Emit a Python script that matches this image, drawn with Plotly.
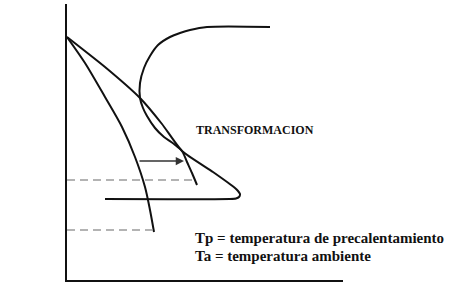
import plotly.graph_objects as go

# Schematic CCT diagram values (arbitrary time / temperature units)
outer_time = [0, 38, 73, 95, 115, 146, 168, 171, 173, 172, 169, 163, 38]
outer_temp = [243, 213, 182, 156, 129, 108, 92, 89, 86, 83, 81.5, 81, 81]

inner_time = [0, 18, 38, 55, 68, 78, 83, 87]
inner_temp = [243, 217, 183, 153, 123, 93, 70, 48]

nose_time = [203, 140, 123, 113, 103, 91, 83, 77, 73, 73, 76, 80, 88, 97, 107, 115, 120, 125, 130]
nose_temp = [253, 253, 250, 247, 243, 235, 224, 212, 197, 182, 172, 164, 152, 143, 136, 129, 118, 107, 95]

tp_level = 100
tp_time_end = 128
ta_level = 50
ta_time_end = 87

arrow_temp = 119
arrow_time_start = 71
arrow_time_end = 117

ink = "#111111"
dash_col = "#9a9a9a"
serif = "Liberation Serif"

fig = go.Figure()
fig.add_trace(go.Scatter(x=outer_time, y=outer_temp, mode="lines",
                         line=dict(color=ink, width=2, shape="spline", smoothing=0.5),
                         hoverinfo="skip"))
fig.add_trace(go.Scatter(x=inner_time, y=inner_temp, mode="lines",
                         line=dict(color=ink, width=2, shape="spline", smoothing=0.8),
                         hoverinfo="skip"))
fig.add_trace(go.Scatter(x=nose_time, y=nose_temp, mode="lines",
                         line=dict(color=ink, width=2, shape="spline", smoothing=0.8),
                         hoverinfo="skip"))
fig.add_trace(go.Scatter(x=[0, tp_time_end], y=[tp_level, tp_level], mode="lines",
                         line=dict(color=dash_col, width=1.6, dash="8px,5px"),
                         hoverinfo="skip"))
fig.add_trace(go.Scatter(x=[0, ta_time_end], y=[ta_level, ta_level], mode="lines",
                         line=dict(color=dash_col, width=1.6, dash="8px,5px"),
                         hoverinfo="skip"))

fig.add_annotation(x=arrow_time_end, y=arrow_temp, ax=arrow_time_start, ay=arrow_temp,
                   xref="x", yref="y", axref="x", ayref="y", text="",
                   showarrow=True, arrowhead=2, arrowsize=1.1, arrowwidth=1.5,
                   arrowcolor="#333333")

def label(x, y, txt, size, anchor="center", angle=0):
    fig.add_annotation(x=x, y=y, xref="x", yref="y", text="<b>" + txt + "</b>",
                       showarrow=False, xanchor=anchor, yanchor="middle",
                       textangle=angle,
                       font=dict(family=serif, size=size, color=ink))

label(-18, 103, "Tp", 11)
label(-19, 45, "Ta", 11)
label(-38, 186, "TEMPERATURA", 11, angle=-90)
label(127, 150, "TRANSFORMACION", 12, anchor="left")
label(126, 42, "Tp = temperatura de precalentamiento", 15, anchor="left")
label(126, 24, "Ta = temperatura ambiente", 15, anchor="left")
label(283, -5, "TIEMPO", 11.5, anchor="left")

axis_common = dict(range=[0, 276], showline=True, linewidth=2, linecolor=ink,
                   showgrid=False, zeroline=False, showticklabels=False, ticks="",
                   fixedrange=True)
fig.update_layout(
    width=473, height=301,
    margin=dict(l=67, r=130, t=4, b=21, pad=0),
    paper_bgcolor="white", plot_bgcolor="white",
    showlegend=False,
    xaxis=axis_common, yaxis=axis_common,
)
fig.write_html("out.html", config={"displayModeBar": False})
